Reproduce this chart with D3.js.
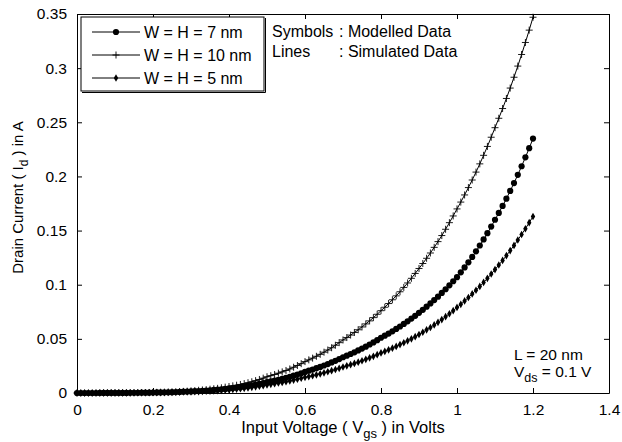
<!DOCTYPE html>
<html>
<head>
<meta charset="utf-8">
<script src="https://cdn.jsdelivr.net/npm/d3@7"></script>
<style>
  body { margin: 0; background: #fff; }
  text { font-family: "Liberation Sans", Arial, sans-serif; fill: #000; }
</style>
</head>
<body>
<script>
// gate voltage grid (0 to 1.2 V, 0.01 V apart)
var vgsStep = 0.01;

// drain current (A), one value per grid step
var id10nm = [
  0.0000,0.0000,0.0000,0.0000,0.0000,0.0001,0.0001,0.0001,0.0001,0.0001,0.0001,
  0.0001,0.0002,0.0002,0.0002,0.0002,0.0003,0.0003,0.0003,0.0004,0.0005,
  0.0006,0.0007,0.0008,0.0009,0.0010,0.0011,0.0013,0.0015,0.0017,0.0020,
  0.0022,0.0025,0.0028,0.0031,0.0035,0.0039,0.0043,0.0048,0.0054,0.0060,
  0.0066,0.0072,0.0079,0.0087,0.0095,0.0104,0.0114,0.0125,0.0137,0.0150,
  0.0160,0.0171,0.0183,0.0195,0.0208,0.0222,0.0238,0.0254,0.0271,0.0290,
  0.0306,0.0322,0.0339,0.0357,0.0377,0.0397,0.0418,0.0441,0.0465,0.0490,
  0.0512,0.0535,0.0559,0.0584,0.0610,0.0638,0.0666,0.0696,0.0727,0.0760,
  0.0792,0.0826,0.0861,0.0897,0.0935,0.0975,0.1016,0.1059,0.1104,0.1150,
  0.1196,0.1244,0.1293,0.1345,0.1398,0.1454,0.1512,0.1573,0.1635,0.1700,
  0.1763,0.1829,0.1897,0.1967,0.2040,0.2116,0.2195,0.2277,0.2362,0.2450,
  0.2537,0.2627,0.2720,0.2816,0.2916,0.3019,0.3126,0.3237,0.3351,0.3470
];
var id7nm = [
  0.0000,0.0000,0.0000,0.0000,0.0000,0.0000,0.0001,0.0001,0.0001,0.0001,0.0001,
  0.0001,0.0001,0.0001,0.0002,0.0002,0.0002,0.0003,0.0003,0.0003,0.0004,
  0.0005,0.0005,0.0006,0.0007,0.0008,0.0009,0.0010,0.0012,0.0013,0.0015,
  0.0017,0.0018,0.0020,0.0023,0.0025,0.0028,0.0031,0.0034,0.0038,0.0042,
  0.0046,0.0050,0.0054,0.0059,0.0065,0.0071,0.0077,0.0084,0.0092,0.0100,
  0.0107,0.0114,0.0122,0.0131,0.0140,0.0149,0.0160,0.0171,0.0182,0.0195,
  0.0206,0.0217,0.0229,0.0241,0.0254,0.0267,0.0282,0.0297,0.0313,0.0330,
  0.0345,0.0360,0.0376,0.0393,0.0410,0.0428,0.0448,0.0467,0.0488,0.0510,
  0.0529,0.0549,0.0570,0.0592,0.0614,0.0638,0.0662,0.0687,0.0713,0.0740,
  0.0768,0.0797,0.0827,0.0858,0.0890,0.0924,0.0958,0.0994,0.1032,0.1070,
  0.1114,0.1160,0.1207,0.1257,0.1308,0.1362,0.1418,0.1476,0.1537,0.1600,
  0.1663,0.1728,0.1795,0.1866,0.1939,0.2015,0.2094,0.2176,0.2261,0.2350
];
var id5nm = [
  0.0000,0.0000,0.0000,0.0000,0.0000,0.0000,0.0000,0.0001,0.0001,0.0001,0.0001,
  0.0001,0.0001,0.0001,0.0001,0.0002,0.0002,0.0002,0.0002,0.0003,0.0003,
  0.0003,0.0004,0.0004,0.0005,0.0006,0.0007,0.0008,0.0009,0.0010,0.0011,
  0.0012,0.0013,0.0015,0.0016,0.0018,0.0020,0.0022,0.0025,0.0027,0.0030,
  0.0033,0.0036,0.0039,0.0043,0.0047,0.0052,0.0057,0.0062,0.0068,0.0075,
  0.0080,0.0086,0.0092,0.0098,0.0104,0.0111,0.0119,0.0127,0.0136,0.0145,
  0.0152,0.0160,0.0168,0.0177,0.0186,0.0196,0.0206,0.0217,0.0228,0.0240,
  0.0251,0.0262,0.0273,0.0285,0.0298,0.0311,0.0325,0.0339,0.0354,0.0370,
  0.0384,0.0399,0.0414,0.0430,0.0447,0.0464,0.0482,0.0500,0.0520,0.0540,
  0.0561,0.0583,0.0605,0.0629,0.0653,0.0678,0.0705,0.0732,0.0760,0.0790,
  0.0819,0.0850,0.0882,0.0915,0.0949,0.0984,0.1021,0.1059,0.1099,0.1140,
  0.1182,0.1224,0.1269,0.1315,0.1363,0.1413,0.1464,0.1517,0.1573,0.1630
];

var seriesNames = ["W = H = 7 nm", "W = H = 10 nm", "W = H = 5 nm"];
var xTicks = [0, 0.2, 0.4, 0.6, 0.8, 1, 1.2, 1.4];
var yTicks = [0, 0.05, 0.1, 0.15, 0.2, 0.25, 0.3, 0.35];

// set the dimensions and margins of the graph
var W = 622, H = 442;
var margin = {top: 14, right: 13, bottom: 49, left: 77},
    width = W - margin.left - margin.right,
    height = H - margin.top - margin.bottom;

var svg = d3.select("body").append("svg")
    .attr("width", W)
    .attr("height", H);

var g = svg.append("g")
    .attr("transform", "translate(" + margin.left + "," + margin.top + ")");

var x = d3.scaleLinear().domain([0, 1.4]).range([0, width]);
var y = d3.scaleLinear().domain([0, 0.35]).range([height, 0]);

var series = [
  {name: seriesNames[0], values: id7nm, marker: "circle"},
  {name: seriesNames[1], values: id10nm, marker: "plus"},
  {name: seriesNames[2], values: id5nm, marker: "diamond"}
];

// draws one marker of a given type into a selection
function drawMarker(sel, type) {
  if (type === "circle") {
    sel.append("circle").attr("r", 3.1).attr("fill", "#000");
  } else if (type === "plus") {
    sel.append("path").attr("d", "M-3.5,0H3.5M0,-3.5V3.5")
      .attr("stroke", "#000").attr("stroke-width", 0.9).attr("fill", "none");
  } else {
    sel.append("path").attr("d", d3.symbol(d3.symbolDiamond, 17)())
      .attr("fill", "#000");
  }
}

// axes with inward ticks on all four sides
var fmt = function(d) { return d3.format("")(+d.toFixed(2)); };
g.append("g").attr("transform", "translate(0," + height + ")")
  .call(d3.axisBottom(x).tickValues(xTicks).tickSizeInner(-5).tickSizeOuter(0).tickPadding(11).tickFormat(fmt));
g.append("g")
  .call(d3.axisTop(x).tickValues(xTicks).tickSizeInner(-5).tickSizeOuter(0).tickFormat(""));
g.append("g")
  .call(d3.axisLeft(y).tickValues(yTicks).tickSizeInner(-5).tickSizeOuter(0).tickPadding(10).tickFormat(fmt));
g.append("g").attr("transform", "translate(" + width + ",0)")
  .call(d3.axisRight(y).tickValues(yTicks).tickSizeInner(-5).tickSizeOuter(0).tickFormat(""));

g.selectAll(".domain").attr("stroke", "#000").attr("stroke-width", 1);
g.selectAll(".tick line").attr("stroke", "#000");
g.selectAll(".tick text").style("font-size", "15.5px").attr("fill", "#000")
  .style("font-family", "'Liberation Sans', Arial, sans-serif");

// simulated data lines and modelled data symbols
var line = d3.line()
  .x(function(d, i) { return x(i * vgsStep); })
  .y(function(d) { return y(d); });

series.forEach(function(s) {
  g.append("path")
    .datum(s.values)
    .attr("d", line)
    .attr("fill", "none")
    .attr("stroke", "#000")
    .attr("stroke-width", 1);

  g.selectAll(null)
    .data(s.values)
    .enter()
    .append("g")
    .attr("transform", function(d, i) { return "translate(" + x(i * vgsStep) + "," + y(d) + ")"; })
    .each(function() { drawMarker(d3.select(this), s.marker); });
});

// legend box
var lg = svg.append("g").attr("transform", "translate(81,17)");
lg.append("rect").attr("width", 183).attr("height", 74)
  .attr("fill", "#fff").attr("stroke", "#000").attr("stroke-width", 1);
lg.append("path").attr("d", "M1,75.5H184.5V1").attr("fill", "none").attr("stroke", "#000");

series.forEach(function(s, i) {
  var cy = 15 + i * 23;
  lg.append("line").attr("x1", 11).attr("x2", 59).attr("y1", cy).attr("y2", cy)
    .attr("stroke", "#000").attr("stroke-width", 1);
  drawMarker(lg.append("g").attr("transform", "translate(35," + cy + ")"), s.marker);
  lg.append("text").attr("x", 63).attr("y", cy + 5.5).style("font-size", "16px").text(s.name);
});

// notes
svg.append("text").attr("x", 272).attr("y", 37).style("font-size", "16px").text("Symbols");
svg.append("text").attr("x", 339).attr("y", 37).style("font-size", "16px").text(": Modelled Data");
svg.append("text").attr("x", 272).attr("y", 57).style("font-size", "16px").text("Lines");
svg.append("text").attr("x", 339).attr("y", 57).style("font-size", "16px").text(": Simulated Data");

svg.append("text").attr("x", 514).attr("y", 360).style("font-size", "15.5px").text("L = 20 nm");
var vds = svg.append("text").attr("x", 514).attr("y", 377).style("font-size", "15.5px");
vds.append("tspan").text("V");
vds.append("tspan").attr("dy", 5).style("font-size", "12.5px").text("ds");
vds.append("tspan").attr("dy", -5).text(" = 0.1 V");

// axis titles
var xt = svg.append("text").attr("x", margin.left + width / 2).attr("y", 433)
  .attr("text-anchor", "middle").style("font-size", "16.5px");
xt.append("tspan").text("Input Voltage ( V");
xt.append("tspan").attr("dy", 5).style("font-size", "13px").text("gs");
xt.append("tspan").attr("dy", -5).text(" ) in Volts");

var yt = svg.append("text")
  .attr("transform", "translate(23," + (margin.top + height / 2 - 6) + ") rotate(-90)")
  .attr("text-anchor", "middle").style("font-size", "15px");
yt.append("tspan").text("Drain Current ( I");
yt.append("tspan").attr("dy", 5).style("font-size", "12px").text("d");
yt.append("tspan").attr("dy", -5).text(" ) in A");
</script>
</body>
</html>
